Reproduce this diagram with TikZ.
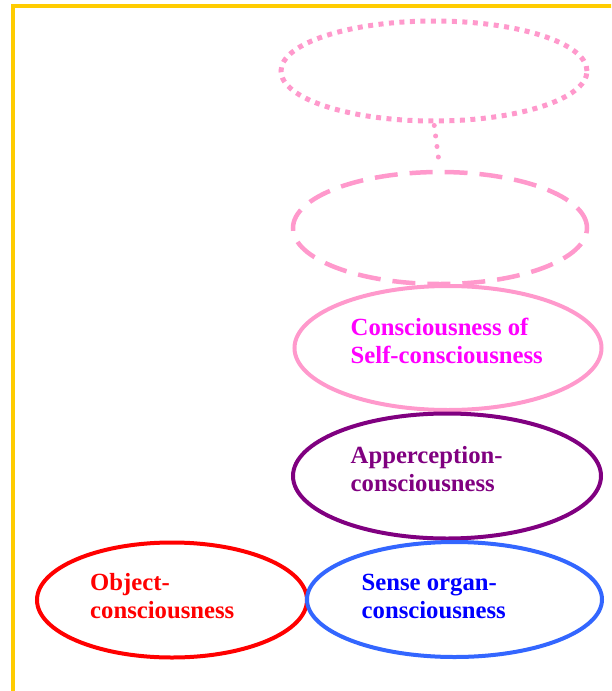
\documentclass[tikz,border=0pt]{standalone}
\usepackage{fontspec}
\setmainfont{Liberation Serif}
\usetikzlibrary{shapes.geometric}

\definecolor{frameyellow}{HTML}{FFCC00}
\definecolor{softpink}{HTML}{FF99CC}
\definecolor{hotmagenta}{HTML}{FF00FF}
\definecolor{deeppurple}{HTML}{800080}
\definecolor{brightred}{HTML}{FF0000}
\definecolor{ringblue}{HTML}{3366FF}
\definecolor{textblue}{HTML}{0000FF}

\tikzset{
  ring/.style={ellipse, draw, line width=4pt, inner sep=0pt},
  dotring/.style={ring, draw=softpink, line width=5pt, dash pattern=on 5pt off 5.5pt},
  dashring/.style={ring, draw=softpink, line width=4.5pt, dash pattern=on 23pt off 12pt},
  % anchored at the baseline of the last line
  caption/.style={anchor=base west, align=left, inner sep=0pt,
    font=\bfseries\fontsize{24.7}{28}\selectfont},
}

\begin{document}
\begin{tikzpicture}[x=1pt, y=-1pt]
  \useasboundingbox (0,0) rectangle (611,691);
  \begin{scope}
    \clip (0,0) rectangle (611,691);
    \draw[frameyellow, line width=4pt] (13,5.5) rectangle (660,740);
  \end{scope}

  % upper, still open levels
  \node[dotring, minimum width=306pt, minimum height=100pt] (open) at (434,71) {};
  \node[dashring, minimum width=294pt, minimum height=112pt] (next) at (440,228) {};
  \draw[softpink, line width=5pt, line cap=round, dash pattern=on 0pt off 10.6pt,
        shorten <=2pt, shorten >=4pt] (open.south) -- (next.north);

  % levels of consciousness
  \node[ring, draw=softpink, minimum width=307pt, minimum height=124pt] (self) at (448,348) {};
  \node[caption, text=hotmagenta] (selftext) at (350.5,363) {Consciousness of\\Self-consciousness};

  \node[ring, draw=deeppurple, minimum width=308pt, minimum height=125pt] (apper) at (447,476) {};
  \node[caption, text=deeppurple] (appertext) at (350.5,491) {Apperception-\\consciousness};

  \node[ring, draw=brightred, minimum width=270pt, minimum height=115pt] (object) at (172,600) {};
  \node[caption, text=brightred] (objecttext) at (90,618) {Object-\\consciousness};

  \node[ring, draw=ringblue, minimum width=295pt, minimum height=115pt] (sense) at (454.5,599.5) {};
  \node[caption, text=textblue] (sensetext) at (361.5,618) {Sense organ-\\consciousness};
\end{tikzpicture}
\end{document}
